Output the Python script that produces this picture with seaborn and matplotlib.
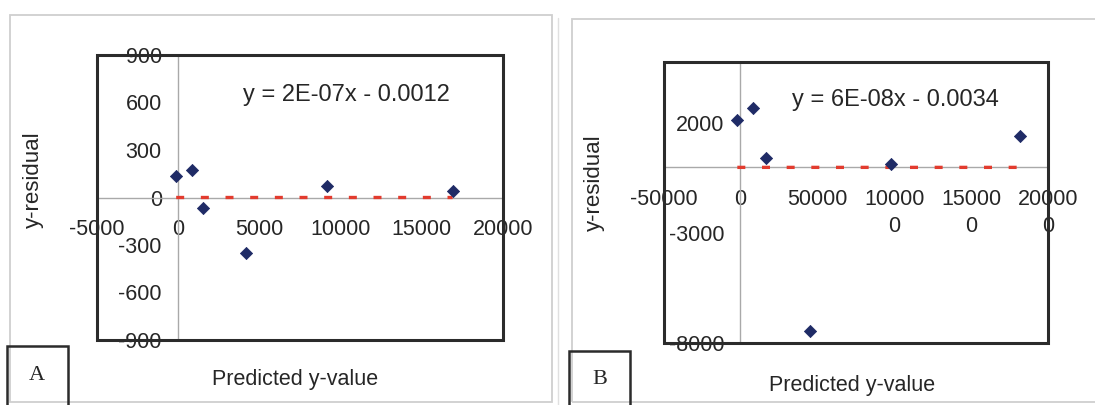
import numpy as np
import pandas as pd
import matplotlib
matplotlib.use("Agg")
import matplotlib.pyplot as plt
from matplotlib.patches import Rectangle
import seaborn as sns

# ---------------- data ----------------
# Panel A
a_pred = [-100, 850, 1550, 4200, 9200, 16900]
a_resid = [135, 175, -65, -350, 70, 38]
a_slope, a_intercept = 2e-07, -0.0012
a_equation = "y = 2E-07x - 0.0012"
a_xticks = [-5000, 0, 5000, 10000, 15000, 20000]
a_xticklabels = ["-5000", "0", "5000", "10000", "15000", "20000"]
a_yticks = [-900, -600, -300, 0, 300, 600, 900]
a_yticklabels = ["-900", "-600", "-300", "0", "300", "600", "900"]

# Panel B
b_pred = [-2000, 8300, 16400, 45500, 98000, 182000]
b_resid = [2150, 2700, 440, -7450, 170, 1420]
b_slope, b_intercept = 6e-08, -0.0034
b_equation = "y = 6E-08x - 0.0034"
b_xticks = [-50000, 0, 50000, 100000, 150000, 200000]
b_xticklabels = ["-50000", "0", "50000", "10000\n0", "15000\n0", "20000\n0"]
b_yticks = [-8000, -3000, 2000]
b_yticklabels = ["-8000", "-3000", "2000"]

x_label = "Predicted y-value"
y_label = "y-residual"
panel_tags = ["A", "B"]

# ---------------- style ----------------
sns.set_theme(style="white")
plt.rcParams["font.family"] = ["Liberation Sans", "DejaVu Sans"]

W, H = 1095, 405
fig = plt.figure(figsize=(W / 100, H / 100), dpi=100)
fig.patch.set_facecolor("white")

NAVY = "#1F2B66"
RED = "#E23B2E"
TXT = "#262626"
BOX = "#2b2b2b"
AXG = "#a9a9a9"
FRAME = "#cfcfcf"


def px_rect(x0, y0, x1, y1):
    return [x0 / W, 1 - y1 / H, (x1 - x0) / W, (y1 - y0) / H]


def fig_box(x0, y0, x1, y1, ec, lw):
    fig.add_artist(Rectangle((x0 / W, 1 - y1 / H), (x1 - x0) / W, (y1 - y0) / H,
                             transform=fig.transFigure, fill=False, ec=ec, lw=lw))


# outer chart-area frames
fig_box(10, 15, 552, 402, FRAME, 1.3)
fig.add_artist(plt.Line2D([558 / W, 558 / W], [1 - 18 / H, 0], transform=fig.transFigure,
                          color="#e0e0e0", lw=1.0))
fig_box(572, 19, 1100, 402, FRAME, 1.3)


def draw(ax, pred, resid, slope, intercept, xlim, ylim, xticks, xlabels, yticks, ylabels):
    df = pd.DataFrame({"pred": pred, "resid": resid})
    xs = np.array([df["pred"].min(), df["pred"].max()])
    fit = pd.DataFrame({"pred": xs, "fit": slope * xs + intercept})
    sns.lineplot(data=fit, x="pred", y="fit", ax=ax, color=RED, lw=2.4, zorder=3)
    ax.lines[-1].set_linestyle((0, (2.4, 5.0)))
    sns.scatterplot(data=df, x="pred", y="resid", ax=ax, marker="D", s=38,
                    color=NAVY, edgecolor=NAVY, linewidth=0.6, zorder=4)
    ax.set_xlim(*xlim)
    ax.set_ylim(*ylim)
    ax.set_xticks(xticks)
    ax.set_xticklabels(xlabels)
    ax.set_yticks(yticks)
    ax.set_yticklabels(ylabels)
    ax.set_xlabel("")
    ax.set_ylabel("")
    ax.grid(False)
    ax.set_facecolor("white")
    for s in ("top", "right"):
        ax.spines[s].set_visible(False)
    for s in ("left", "bottom"):
        ax.spines[s].set_position(("data", 0))
        ax.spines[s].set_color(AXG)
        ax.spines[s].set_linewidth(1.0)
    ax.tick_params(axis="both", direction="out", length=3, width=0.8, color=AXG,
                   labelsize=15.5, labelcolor=TXT)
    ax.tick_params(axis="y", pad=8.5)
    ax.tick_params(axis="x", pad=12.5)
    for lbl in ax.get_xticklabels():
        lbl.set_linespacing(1.4)
    ax.add_patch(Rectangle((0, 0), 1, 1, transform=ax.transAxes, fill=False,
                           ec=BOX, lw=2.2, clip_on=False, zorder=6))


axA = fig.add_axes(px_rect(96.5, 55, 503, 340))
draw(axA, a_pred, a_resid, a_slope, a_intercept, (-5000, 20000), (-900, 900),
     a_xticks, a_xticklabels, a_yticks, a_yticklabels)

axB = fig.add_axes(px_rect(663.5, 62, 1048, 343))
draw(axB, b_pred, b_resid, b_slope, b_intercept, (-50000, 200000), (-8000, 4800),
     b_xticks, b_xticklabels, b_yticks, b_yticklabels)

# equations
fig.text(346 / W, 1 - 95 / H, a_equation, ha="center", va="center", fontsize=17, color=TXT)
fig.text(895 / W, 1 - 100 / H, b_equation, ha="center", va="center", fontsize=17, color=TXT)

# axis titles
fig.text(295 / W, 1 - 380 / H, x_label, ha="center", va="center", fontsize=15.5, color=TXT)
fig.text(852 / W, 1 - 385 / H, x_label, ha="center", va="center", fontsize=15.5, color=TXT)
fig.text(33 / W, 1 - 180 / H, y_label, ha="center", va="center", rotation=90, fontsize=16, color=TXT)
fig.text(594 / W, 1 - 183 / H, y_label, ha="center", va="center", rotation=90, fontsize=16, color=TXT)

# panel tags
fig_box(7, 346, 68, 410, BOX, 1.8)
fig_box(569, 351, 630, 410, BOX, 1.8)
fig.text(37 / W, 1 - 376 / H, panel_tags[0], ha="center", va="center", fontsize=16,
         family=["Liberation Serif", "DejaVu Serif"], color=TXT)
fig.text(600 / W, 1 - 379 / H, panel_tags[1], ha="center", va="center", fontsize=16,
         family=["Liberation Serif", "DejaVu Serif"], color=TXT)

fig.savefig("out.png", dpi=100, facecolor="white")
